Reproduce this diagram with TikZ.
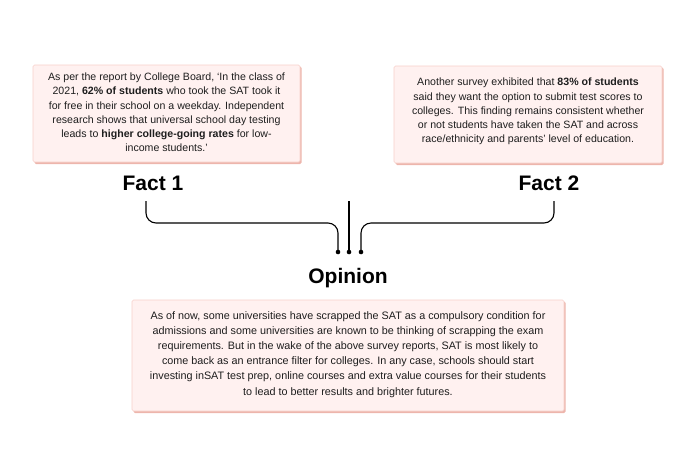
\documentclass[tikz,border=0pt]{standalone}
\usepackage{fontspec}
\setmainfont{Liberation Sans}
\definecolor{boxfill}{HTML}{FFF1F0}
\definecolor{boxline}{HTML}{F7D0CA}
\definecolor{boxshadow}{HTML}{EDB5AC}
\definecolor{txt}{HTML}{1E1E1E}
\tikzset{
  infobox/.style={fill=boxfill, draw=boxline, line width=0.6pt, rounded corners=1.5pt},
  shadowbox/.style={fill=boxshadow, rounded corners=1.5pt},
  boxtext/.style={align=center, text=txt, font=\fontsize{10.6}{14.2}\selectfont, inner sep=0pt},
  boxtextb/.style={align=center, text=txt, font=\fontsize{10.8}{15.1}\selectfont, inner sep=0pt},
  heading/.style={font=\fontsize{21}{24}\selectfont\bfseries, text=black, inner sep=0pt},
  link/.style={line width=1.1pt, rounded corners=10pt},
  enddot/.style={fill=black}
}
\begin{document}
\begin{tikzpicture}[x=1pt,y=-1pt]
\useasboundingbox (0,0) rectangle (700,456);
% boxes
\fill[shadowbox] (34.5,66.5) rectangle (301.5,164);
\draw[infobox] (33,65) rectangle (300,162);
\fill[shadowbox] (395.5,67.5) rectangle (663.5,165);
\draw[infobox] (394,66) rectangle (662,163);
\fill[shadowbox] (133.5,301.5) rectangle (565.5,413);
\draw[infobox] (132,300) rectangle (564,411);
% texts
\node[boxtext] (b1) at (166.5,112.5) {As per the report by College Board, ‘In the class of\\
2021, \textbf{62\% of students} who took the SAT took it\\
for free in their school on a weekday. Independent\\
research shows that universal school day testing\\
leads to \textbf{higher college-going rates} for low-\\
income students.’};
\node[boxtext] (b2) at (528,111.5) {Another survey exhibited that \textbf{83\% of students}\\
said they want the option to submit test scores to\\
colleges. This finding remains consistent whether\\
or not students have taken the SAT and across\\
race/ethnicity and parents’ level of education.};
\node[boxtextb] (b3) at (348,354.5) {As of now, some universities have scrapped the SAT as a compulsory condition for\\
admissions and some universities are known to be thinking of scrapping the exam\\
requirements. But in the wake of the above survey reports, SAT is most likely to\\
come back as an entrance filter for colleges. In any case, schools should start\\
investing inSAT test prep, online courses and extra value courses for their students\\
to lead to better results and brighter futures.};
% headings
\node[heading, anchor=base] (f1) at (153,190) {Fact 1};
\node[heading, anchor=base] (f2) at (549,190) {Fact 2};
\node[heading, anchor=base] (op) at (348,283.5) {Opinion};
% connector points
\coordinate (s1) at (146,201);
\coordinate (s2) at (349,201);
\coordinate (s3) at (554,201);
\coordinate (e1) at (338,252);
\coordinate (e2) at (349,252);
\coordinate (e3) at (361,252);
\draw[link] (s1) -- (146,223) -- (338,223) -- (e1);
\draw[link] (s2) -- (e2);
\draw[link] (s3) -- (554,223) -- (361,223) -- (e3);
\fill[enddot] (e1) circle (2.3pt);
\fill[enddot] (e2) circle (2.3pt);
\fill[enddot] (e3) circle (2.3pt);
\end{tikzpicture}
\end{document}
